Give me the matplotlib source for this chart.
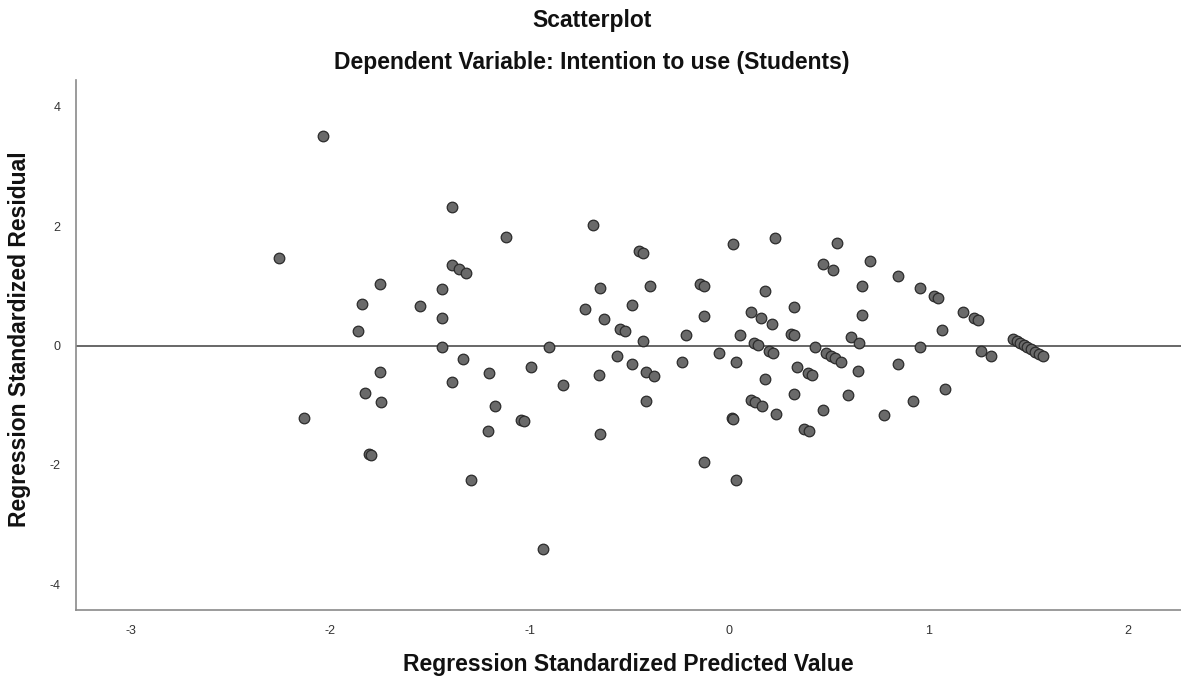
import matplotlib
matplotlib.use("Agg")
import matplotlib.pyplot as plt
import numpy as np

# Standardized predicted values (x) and standardized residuals (y)
pred = [-2.255, -2.038, -1.388, -1.118, -1.388, -1.353, -1.317, -1.749, -1.441, -1.841,
        -1.551, -1.441, -1.859, -1.441, -0.901, -1.332, -1.749, -1.205, -0.993, -1.388,
        -1.824, -1.745, -1.172, -2.129, -1.045, -1.028, -1.209, -1.804, -1.795, -1.295,
        -0.934, -0.684, -0.453, -0.430, 0.020, 0.232, 0.540, 0.470, 0.523, -0.647,
        -0.395, -0.144, -0.125, 0.182, -0.721, -0.628, -0.486, -0.545, -0.520, -0.431,
        -0.217, -0.125, 0.109, 0.162, 0.217, 0.327, 0.054, 0.309, 0.326, 0.125,
        0.147, 0.433, -0.831, -0.650, -0.560, -0.486, -0.415, -0.378, -0.418, -0.234,
        -0.050, 0.037, 0.199, 0.219, 0.182, 0.109, 0.130, 0.164, 0.236, 0.014,
        0.020, -0.647, -0.125, 0.037, 0.343, 0.398, 0.418, 0.326, 0.470, 0.378,
        0.400, 0.707, 0.667, 0.667, 0.849, 0.959, 1.028, 1.047, 1.174, 1.229,
        1.249, 1.067, 0.612, 0.653, 0.959, 1.265, 1.316, 0.488, 0.510, 0.532,
        0.562, 0.849, 0.648, 0.598, 0.777, 0.923, 1.082, 1.423, 1.442, 1.459,
        1.479, 1.497, 1.515, 1.535, 1.555, 1.576]

resid = [1.466, 3.509, 2.320, 1.822, 1.343, 1.276, 1.214, 1.025, 0.941, 0.700,
         0.662, 0.456, 0.248, -0.020, -0.025, -0.226, -0.444, -0.461, -0.355, -0.616,
         -0.801, -0.941, -1.013, -1.219, -1.248, -1.270, -1.432, -1.817, -1.829, -2.253,
         -3.404, 2.013, 1.588, 1.554, 1.705, 1.801, 1.722, 1.370, 1.265, 0.968,
         0.992, 1.025, 0.992, 0.918, 0.611, 0.444, 0.673, 0.281, 0.248, 0.080,
         0.176, 0.499, 0.561, 0.466, 0.360, 0.650, 0.176, 0.198, 0.171, 0.047,
         0.013, -0.017, -0.657, -0.494, -0.176, -0.305, -0.439, -0.506, -0.925, -0.281,
         -0.126, -0.281, -0.092, -0.131, -0.556, -0.908, -0.941, -1.013, -1.147, -1.219,
         -1.236, -1.487, -1.951, -2.248, -0.355, -0.456, -0.489, -0.817, -1.080, -1.399,
         -1.437, 1.420, 1.002, 0.511, 1.159, 0.963, 0.834, 0.801, 0.566, 0.466,
         0.432, 0.268, 0.137, 0.050, -0.020, -0.092, -0.184, -0.131, -0.171, -0.214,
         -0.271, -0.310, -0.432, -0.824, -1.159, -0.930, -0.734, 0.114, 0.075, 0.042,
         0.008, -0.025, -0.064, -0.101, -0.134, -0.171]

x_ticks = [-3, -2, -1, 0, 1, 2]
y_ticks = [-4, -2, 0, 2, 4]

plt.rcParams['font.family'] = ['Liberation Sans', 'DejaVu Sans']
plt.rcParams['axes.unicode_minus'] = False  # SPSS uses a plain hyphen

fig = plt.figure(figsize=(11.81, 6.84), dpi=100)
ax = fig.add_axes([76/1181, 74/684, 1 - 76/1181, 530/684])

ax.axhline(0, color='#5c5c5c', linewidth=1.3, zorder=1)
ax.scatter(pred, resid, s=58, facecolor='#6a6a6a', edgecolor='#2b2b2b', linewidth=0.9, zorder=3)

ax.set_xlim(-3.275, 2.267)
ax.set_ylim(-4.43, 4.447)
ax.set_xticks(x_ticks)
ax.set_yticks(y_ticks)
ax.tick_params(length=0, labelsize=9, colors='#333333')
ax.tick_params(axis='x', pad=11)
ax.tick_params(axis='y', pad=11)

for side in ['top', 'right']:
    ax.spines[side].set_visible(False)
for side in ['left', 'bottom']:
    ax.spines[side].set_color('#8a8a8a')
    ax.spines[side].set_linewidth(1.2)

# titles are centred on the whole picture, axis labels on the plot area
fig.text(592/1181, 1 - 26.7/684, 'Scatterplot', ha='center', va='baseline',
         fontsize=16.5, fontweight='bold', color='#111111')
fig.text(592/1181, 1 - 69.5/684, 'Dependent Variable: Intention to use (Students)',
         ha='center', va='baseline', fontsize=16.5, fontweight='bold', color='#111111')
fig.text(628/1181, 1 - 671/684, 'Regression Standardized Predicted Value',
         ha='center', va='baseline', fontsize=16.5, fontweight='bold', color='#111111')
fig.text(31/1181, 345/684, 'Regression Standardized Residual', rotation=90,
         ha='right', va='center', fontsize=16.5, fontweight='bold', color='#111111')

fig.savefig('out.png', dpi=100)
